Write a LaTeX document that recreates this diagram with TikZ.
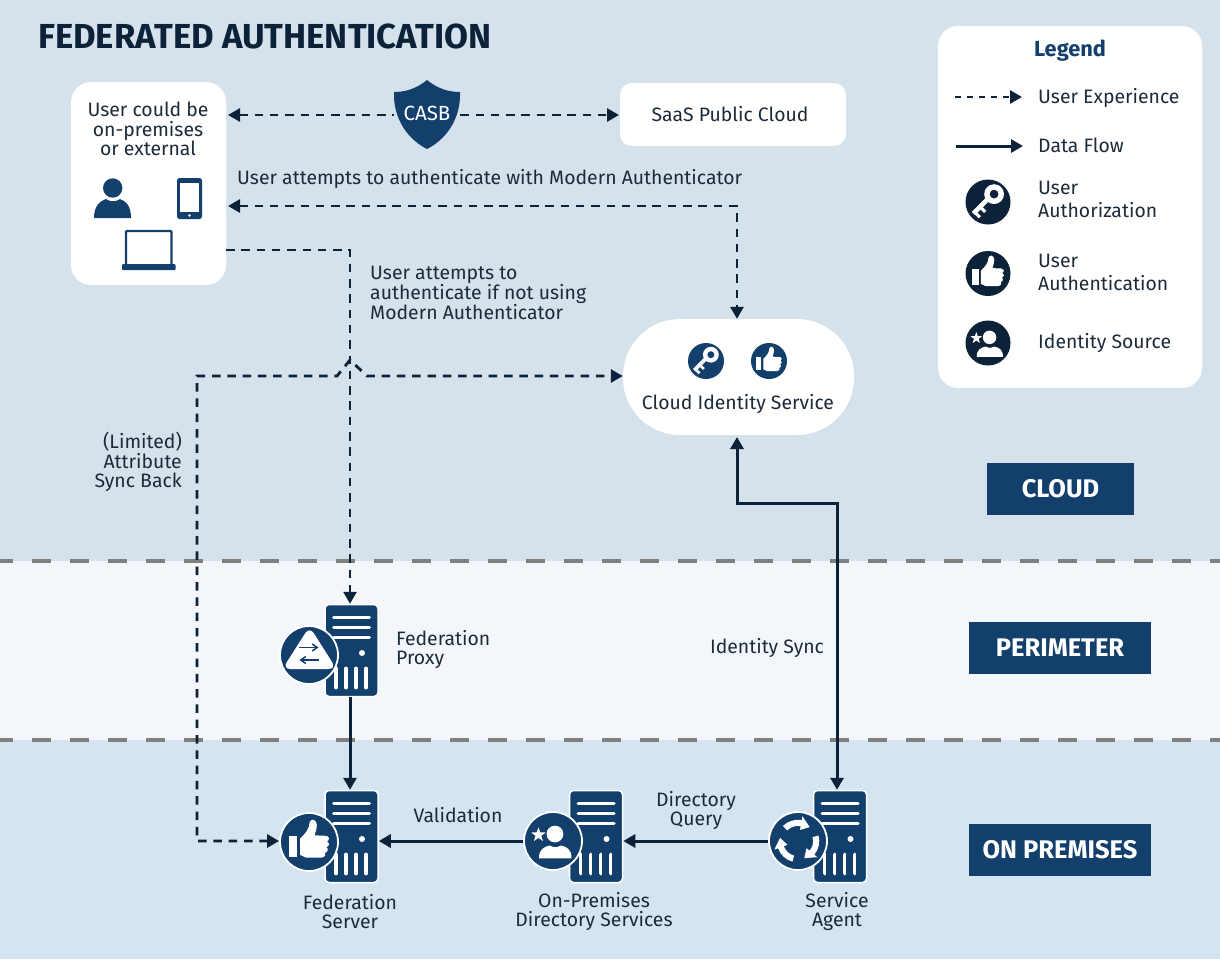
\documentclass[tikz,border=0pt]{standalone}
\usepackage{fontspec}
\setmainfont{Fira Sans}
\usetikzlibrary{arrows.meta,calc}
\definecolor{navy}{HTML}{123F6B}
\definecolor{ink}{HTML}{0B2239}
\definecolor{txt}{HTML}{1C2B3A}
\definecolor{cloudbg}{HTML}{D5E1EB}
\definecolor{perimbg}{HTML}{F3F7FB}
\definecolor{prembg}{HTML}{D4E5F1}
\definecolor{sepgray}{HTML}{808080}
\tikzset{
  x=1pt,y=-1pt,
  lbl/.style={font=\fontsize{19.4}{19.8}\selectfont,text=txt,inner sep=0pt,align=center,yshift=-1pt},
  lbll/.style={lbl,align=left},
  whitebox/.style={fill=white,inner sep=0pt,rounded corners=#1},
  zone/.style={fill=navy,text=white,inner sep=0pt,font=\fontsize{25.5}{27}\selectfont\bfseries},
  ux/.style={draw=ink,line width=2.8pt,dash pattern=on 8.5pt off 6.8pt},
  flow/.style={draw=ink,line width=3pt},
  serverbox/.style={fill=navy,draw=white,line width=1.5pt,rounded corners=4pt,minimum width=53pt,minimum height=92pt,inner sep=0pt},
  badge/.style={circle,fill=navy,draw=white,line width=1.8pt,minimum size=58pt,inner sep=0pt},
  legendbadge/.style={circle,fill=ink,minimum size=45pt,inner sep=0pt},
  cloudbadge/.style={circle,fill=navy,minimum size=36pt,inner sep=0pt},
  serverparts/.pic={
    \foreach \yy in {-33.5,-23.5,-13.5}{\draw[white,line width=3pt,line cap=round] (-18,\yy) -- (18,\yy);}
    \fill[white] (10.5,2.5) circle (3);
    \foreach \xx in {-15.5,-5.5,4.5,14.5}{\draw[white,line width=3.8pt,line cap=round] (\xx,18) -- (\xx,37);}
  },
  keyglyph/.pic={
    \fill[white,even odd rule] (.27,-.35) circle (.44) (.27,-.35) circle (.2);
    \fill[white] (.12,-.12) -- (-.02,-.26) -- (-.72,.44) -- (-.58,.58) -- cycle;
    \fill[white] (-.37,.29) -- (-.27,.19) -- (-.07,.39) -- (-.17,.49) -- cycle;
    \fill[white] (-.61,.53) -- (-.51,.43) -- (-.31,.63) -- (-.41,.73) -- cycle;
  },
  thumbglyph/.pic={
    \fill[white] (-.72,-.2) rectangle (-.42,.52);
    \fill[white] (-.32,-.12) .. controls (-.12,-.3) and (.02,-.5) .. (.02,-.7)
      .. controls (.06,-.86) and (.28,-.82) .. (.28,-.6)
      .. controls (.28,-.45) and (.22,-.35) .. (.2,-.24)
      -- (.62,-.22) .. controls (.74,-.2) and (.74,-.06) .. (.64,-.02)
      .. controls (.74,.02) and (.74,.16) .. (.62,.18)
      .. controls (.7,.24) and (.68,.36) .. (.58,.38)
      .. controls (.62,.46) and (.56,.56) .. (.46,.56)
      -- (-.1,.56) -- (-.32,.46) -- cycle;
  },
  idglyph/.pic={
    \fill[white] (.07,-.25) circle (.3);
    \fill[white] (-.5,.62) .. controls (-.52,.3) and (-.3,.2) .. (-.12,.16)
      .. controls (0,.24) and (.16,.24) .. (.28,.16)
      .. controls (.48,.2) and (.68,.3) .. (.66,.62) -- cycle;
    \fill[white,shift={(-.52,-.22)}] (-90:.27) -- (-54:.11) -- (-18:.27) -- (18:.11) -- (54:.27)
      -- (90:.11) -- (126:.27) -- (162:.11) -- (198:.27) -- (234:.11) -- cycle;
  },
  syncglyph/.pic={
    \foreach \a in {-105,15,135}{
      \fill[white,rotate=\a] (0:.76) arc (0:55:.76) -- (55:.9) -- (85:.65) -- (55:.4) -- (55:.54) arc (55:0:.54) -- cycle;
    }
  },
  proxyglyph/.pic={
    \fill[white,rounded corners=8pt] (.02,-1.02) -- (.98,.5) -- (-.95,.5) -- cycle;
    \draw[navy,line width=1.5pt,-{Straight Barb[length=5pt,width=7pt]}] (-.34,-.27) -- (.34,-.27);
    \draw[navy,line width=1.5pt,-{Straight Barb[length=5pt,width=7pt]}] (.34,.18) -- (-.34,.18);
  }
}
\begin{document}
\begin{tikzpicture}
\useasboundingbox (0,0) rectangle (1220,959);
% bands
\fill[cloudbg] (0,0) rectangle (1220,561);
\fill[perimbg] (0,561) rectangle (1220,740);
\fill[prembg] (0,740) rectangle (1220,959);
\draw[sepgray,line width=4pt,dash pattern=on 19pt off 19pt] (-6,561) -- (1220,561);
\draw[sepgray,line width=4pt,dash pattern=on 19pt off 19pt] (-6,740) -- (1220,740);

\node[anchor=west,inner sep=0pt,text=ink,font=\fontsize{34.7}{36}\selectfont\bfseries] (title) at (38,36) {FEDERATED AUTHENTICATION};

% boxes
\node[whitebox=20pt,minimum width=155pt,minimum height=203pt] (user) at (148.5,183.5) {};
\node[lbl] (usertext) at (148,128) {User could be\\on-premises\\or external};
\node[whitebox=12pt,minimum width=226pt,minimum height=63pt,lbl] (saas) at (733,113.5) {SaaS Public Cloud\hspace{6pt}};
\node[whitebox=57pt,minimum width=231pt,minimum height=116pt] (cis) at (738.5,377) {};
\node[lbl] (cistext) at (738,403) {Cloud Identity Service};
\node[whitebox=20pt,minimum width=264pt,minimum height=362pt] (legend) at (1070,207) {};

% user icons
\fill[navy] (112.7,188) circle (9.7);
\fill[navy] (94,218) .. controls (94,206) and (100,201) .. (106,199) .. controls (110,202) and (116,202) .. (120,199) .. controls (126,201) and (131,206) .. (131,218) -- cycle;
\fill[navy,rounded corners=2.5pt] (177,178) rectangle (202,219);
\fill[white] (180,182.5) rectangle (199,212);
\fill[white] (189.5,215.5) circle (1.4);
\draw[navy,line width=2.2pt,rounded corners=1pt] (126,264) -- (126,231) -- (171.5,231) -- (171.5,264);
\fill[navy,rounded corners=1pt] (122,264) rectangle (175.5,270);

% CASB
\fill[navy] (427,80) .. controls (438,89) and (449,92) .. (460,92) .. controls (461,120) and (445,140) .. (427,149) .. controls (409,140) and (393,120) .. (394,92) .. controls (405,92) and (416,89) .. (427,80) -- cycle;
\node[inner sep=0pt,minimum width=66pt,text=white,font=\fontsize{20.5}{22}\selectfont] (casb) at (427,113) {CASB};

% cloud icons
\node[cloudbadge] (cisKey) at (706,361) {};
\pic[scale=18] at (cisKey) {keyglyph};
\node[cloudbadge] (cisThumb) at (769,361) {};
\pic[scale=18] at (cisThumb) {thumbglyph};

% servers
\node[serverbox] (fedproxy) at (351.5,650.5) {};
\pic at (fedproxy) {serverparts};
\node[badge] (proxyicon) at (309,655) {};
\pic[scale=28] at (proxyicon) {proxyglyph};

\node[serverbox] (fedserver) at (351.5,836.5) {};
\pic at (fedserver) {serverparts};
\node[badge] (fedicon) at (309,842) {};
\pic[scale=28] at (fedicon) {thumbglyph};

\node[serverbox] (dirserver) at (596,836.5) {};
\pic at (dirserver) {serverparts};
\node[badge] (diricon) at (553,841) {};
\pic[scale=28] at (diricon) {idglyph};

\node[serverbox] (agent) at (840,836.5) {};
\pic at (agent) {serverparts};
\node[badge] (agenticon) at (798,841) {};
\pic[scale=28] at (agenticon) {syncglyph};

% connector coordinates
\coordinate (uA) at (228,115);
\coordinate (sA) at (619,115);
\coordinate (uB) at (228,206);
\coordinate (cB) at (737,206);
\coordinate (uC) at (226,250);
\coordinate (cC) at (350,250);
\coordinate (hopL) at (337,376);
\coordinate (hopT) at (350,360);
\coordinate (hopR) at (367,376);
\coordinate (cLeft) at (197,376);
\coordinate (cDown) at (197,841);

% user experience
\draw[ux,{Triangle[length=12pt,width=13pt]}-] (uA) -- (casb.west |- uA);
\draw[ux,-{Triangle[length=12pt,width=13pt]}] (casb.east |- sA) -- (sA);
\draw[ux,{Triangle[length=12pt,width=13pt]}-{Triangle[length=12pt,width=13pt]}] (uB) -- (cB) -- (cis.north -| cB);
\draw[ux,-{Triangle[length=12pt,width=13pt]}] (uC) -- (cC) -- (cC |- fedproxy.north);
\draw[ux,{Triangle[length=12pt,width=13pt]}-{Triangle[length=12pt,width=13pt]}] (fedicon.west |- cDown) -- (cDown) -- (cLeft) -- (hopL) -- (hopT) -- (hopR) -- (cis.west |- hopR);

% data flow
\coordinate (cisS) at (737,437);
\coordinate (mL) at (737,503);
\coordinate (mR) at (837,503);
\draw[flow,{Triangle[length=12pt,width=13pt]}-{Triangle[length=12pt,width=13pt]}] (cisS) -- (mL) -- (mR) -- (mR |- agent.north);
\draw[flow,-{Triangle[length=12pt,width=13pt]}] (fedproxy.south -| cC) -- (fedserver.north -| cC);
\draw[flow,-{Triangle[length=12pt,width=13pt]}] (diricon.west) -- (fedserver.east |- diricon.west);
\draw[flow,-{Triangle[length=12pt,width=13pt]}] (agenticon.west) -- (dirserver.east |- agenticon.west);

% labels
\node[lbll,anchor=west] (lA) at (237,178) {User attempts to authenticate with Modern Authenticator};
\node[lbll,anchor=west] (lB) at (370,292) {User attempts to\\authenticate if not using\\Modern Authenticator};
\node[lbl,align=right,anchor=east] (lC) at (182,461) {(Limited)\\Attribute\\Sync Back};
\node[lbll,anchor=west] (lD) at (396,648.5) {Federation\\Proxy};
\node[lbl] (lE) at (767,647) {Identity Sync};
\node[lbl] (lF) at (458,814) {Validation};
\node[lbl] (lG) at (696,809.5) {Directory\\Query};
\node[lbl] (lH) at (350,910.5) {Federation\\Server};
\node[lbl] (lI) at (594,910.5) {On-Premises\\Directory Services};
\node[lbl] (lJ) at (837,910.5) {Service\\Agent};

% zones
\node[zone,minimum width=147pt,minimum height=52pt] (zcloud) at (1060.5,489) {CLOUD};
\node[zone,minimum width=182pt,minimum height=52pt] (zperim) at (1060,648) {PERIMETER};
\node[zone,minimum width=182pt,minimum height=52pt] (zprem) at (1060,850) {ON PREMISES};

% legend
\node[inner sep=0pt,text=navy,font=\fontsize{21.8}{24}\selectfont\bfseries] (legtitle) at (1070,51) {Legend};
\coordinate (lg1a) at (955,97);
\coordinate (lg1b) at (1022,97);
\coordinate (lg2a) at (956,146);
\coordinate (lg2b) at (1023,146);
\draw[ink,line width=2.8pt,dash pattern=on 6pt off 6pt,-{Triangle[length=12pt,width=13pt]}] (lg1a) -- (lg1b);
\draw[flow,-{Triangle[length=12pt,width=13pt]}] (lg2a) -- (lg2b);
\node[lbll,anchor=west] (lt1) at (1038,96.5) {User Experience};
\node[lbll,anchor=west] (lt2) at (1038,144.5) {Data Flow};
\node[legendbadge] (lkey) at (988,202) {};
\pic[scale=22.5] at (lkey) {keyglyph};
\node[legendbadge] (lthumb) at (988,273.5) {};
\pic[scale=22.5] at (lthumb) {thumbglyph};
\node[legendbadge] (lid) at (988,343) {};
\pic[scale=22.5] at (lid) {idglyph};
\node[lbll,anchor=west,font=\fontsize{19.4}{23}\selectfont] (lt3) at (1038,198.5) {User\\Authorization};
\node[lbll,anchor=west,font=\fontsize{19.4}{23}\selectfont] (lt4) at (1038,271) {User\\Authentication};
\node[lbll,anchor=west] (lt5) at (1038,342) {Identity Source};
\end{tikzpicture}
\end{document}
